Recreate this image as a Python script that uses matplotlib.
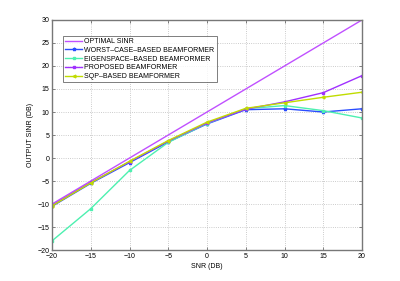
import numpy as np
import matplotlib
matplotlib.use('Agg')
import matplotlib.pyplot as plt

# SNR sweep (dB)
snr = [-20, -15, -10, -5, 0, 5, 10, 15, 20]

optimal = [-10, -5, 0, 5, 10, 15, 20, 25, 30]
worst_case = [-10.5, -5.5, -1.0, 3.5, 7.4, 10.5, 10.7, 10.0, 10.7]
eigenspace = [-18.0, -11.0, -2.7, 3.4, 7.5, 10.7, 11.4, 10.3, 8.7]
proposed = [-10.3, -5.3, -0.8, 3.7, 7.6, 10.6, 12.2, 14.2, 17.9]
sqp = [-10.4, -5.4, -0.7, 3.8, 7.8, 10.8, 12.0, 13.2, 14.3]

plt.rcParams['font.family'] = ['Liberation Sans', 'DejaVu Sans']
plt.rcParams['font.size'] = 5

fig = plt.figure(figsize=(4, 2.81), dpi=100)
ax = fig.add_axes([0.13, 0.11, 0.775, 0.819])

ax.plot(snr, optimal, color='#c050ff', lw=1.0, label='OPTIMAL SINR')
ax.plot(snr, worst_case, color='#2a4cff', lw=1.0, marker='*', ms=2.5, label='WORST\u2013CASE\u2013BASED BEAMFORMER')
ax.plot(snr, eigenspace, color='#4df0b0', lw=1.0, marker='s', ms=2, label='EIGENSPACE\u2013BASED BEAMFORMER')
ax.plot(snr, proposed, color='#a030ff', lw=1.0, marker='s', ms=2, label='PROPOSED BEAMFORMER')
ax.plot(snr, sqp, color='#c0dc00', lw=1.0, marker='<', ms=2, label='SQP\u2013BASED BEAMFORMER')

ax.set_xlim(-20, 20)
ax.set_ylim(-20, 30)
ax.set_xticks(range(-20, 21, 5))
ax.set_yticks(range(-20, 31, 5))
ax.set_xticklabels([str(v).replace('-', '\u2212') for v in range(-20, 21, 5)])
ax.set_yticklabels([str(v).replace('-', '\u2212') for v in range(-20, 31, 5)])
ax.grid(True, linestyle=':', color='#bbbbbb', lw=0.6)
ax.tick_params(direction='in', top=True, right=True, length=2, width=0.5, pad=2, color='#555555')
for s in ax.spines.values():
    s.set_color('#777777')
    s.set_linewidth(1.0)

ax.set_xlabel('SNR (DB)', labelpad=2)
ax.set_ylabel('OUTPUT SINR (DB)', labelpad=2)

leg = ax.legend(loc='upper left', bbox_to_anchor=(0.035, 0.93), fontsize=5, frameon=True,
                fancybox=False, edgecolor='#444444', handlelength=2.5, borderpad=0.3,
                labelspacing=0.25, handletextpad=0.3, borderaxespad=0)
leg.get_frame().set_linewidth(0.6)

fig.savefig('out.png', dpi=100)
